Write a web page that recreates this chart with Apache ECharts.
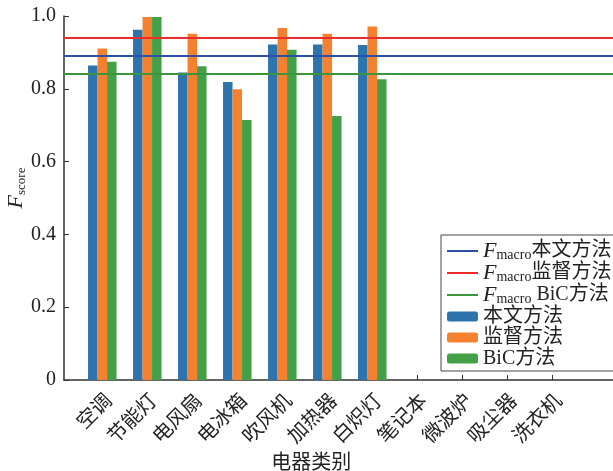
<!DOCTYPE html>
<html><head><meta charset="utf-8">
<script src="https://cdn.jsdelivr.net/npm/echarts@6/dist/echarts.min.js"></script>
<style>html,body{margin:0;padding:0;background:#fff}#c{width:613px;height:471px}</style>
</head><body><div id="c"></div>
<script>
const categories = ['空调','节能灯','电风扇','电冰箱','吹风机','加热器','白炽灯','笔记本','微波炉','吸尘器','洗衣机'];
const seriesNames = ['本文方法','监督方法','BiC方法'];
const oursValues = [0.864, 0.962, 0.845, 0.819, 0.922, 0.922, 0.920];
const supervisedValues = [0.911, 0.997, 0.951, 0.799, 0.967, 0.951, 0.971];
const bicValues = [0.874, 0.997, 0.862, 0.714, 0.907, 0.725, 0.826];
const macroNames = ['Fmacro本文方法','Fmacro监督方法','Fmacro BiC方法'];
const macroValues = [0.894, 0.935, 0.844];
const yTicks = [0, 0.2, 0.4, 0.6, 0.8, 1.0];

const FONT = '"Times New Roman","Liberation Serif","Noto Sans CJK SC",serif';
const barColors = ['#2c74ab','#f4812f','#43a047'];
const lineColors = ['#2d4fa6','#ee2b2b','#3c943c'];

const chart = echarts.init(document.getElementById('c'));
const series = [];
macroNames.forEach((n,i)=>{
  series.push({
    name:n, type:'line', xAxisIndex:0, yAxisIndex:0, data:[], symbol:'none',
    lineStyle:{color:lineColors[i], width:2}, itemStyle:{color:lineColors[i]},
    markLine:{silent:true, symbol:'none', label:{show:false},
      lineStyle:{color:lineColors[i], width:2, type:'solid'},
      data:[{yAxis:macroValues[i]}]}
  });
});
[oursValues, supervisedValues, bicValues].forEach((d,i)=>{
  series.push({name:seriesNames[i], type:'bar', xAxisIndex:1, yAxisIndex:1, data:d,
    barWidth:9.5, barGap:'0%', itemStyle:{color:barColors[i]}});
});

chart.setOption({
  animation:false,
  textStyle:{fontFamily:FONT},
  grid:[{left:64, right:0, top:16, bottom:91, outerBoundsMode:'none', containLabel:false},
        {left:79.8, width:495, top:16, bottom:91, outerBoundsMode:'none', containLabel:false}],
  xAxis:[
    {type:'value', gridIndex:0, min:0, max:1, axisLine:{show:true, lineStyle:{color:'#333', width:1.5}},
     axisTick:{show:false}, axisLabel:{show:false}, splitLine:{show:false}},
    {type:'category', gridIndex:1, data:categories, axisLine:{show:false},
     axisTick:{show:true, inside:true, alignWithLabel:true, length:5, lineStyle:{color:'#333'}},
     axisLabel:{rotate:45, fontSize:20, color:'#222', fontFamily:FONT, margin:11, interval:0, verticalAlign:'top'},
     name:'电器类别', nameLocation:'middle', nameGap:74, nameMoveOverlap:false,
     nameTextStyle:{fontSize:20, color:'#222', fontFamily:FONT, padding:[0,32,0,0]}}
  ],
  yAxis:[
    {type:'value', gridIndex:0, min:0, max:1, interval:0.2,
     axisLine:{show:true, lineStyle:{color:'#333', width:1.5}},
     axisTick:{show:true, inside:true, length:5, lineStyle:{color:'#333'}},
     axisLabel:{fontSize:20, color:'#222', fontFamily:FONT, margin:8,
       formatter:v=>v===0?'0':v.toFixed(1)},
     splitLine:{show:false},
     name:'{f|F}{s|score}', nameLocation:'middle', nameRotate:90, nameGap:36, nameMoveOverlap:false,
     nameTextStyle:{padding:[0,0,0,20], rich:{f:{fontSize:22, fontStyle:'italic', fontFamily:FONT, color:'#222'},
       s:{fontSize:13, fontFamily:FONT, color:'#222', padding:[10,0,0,0]}}}},
    {type:'value', gridIndex:1, min:0, max:1, show:false}
  ],
  legend:{
    orient:'vertical', left:441, top:235,
    data:[...macroNames.map(n=>({name:n, itemStyle:{opacity:0}})), ...seriesNames],
    itemWidth:31, itemHeight:10, itemGap:0,
    padding:[5,40,2,5],
    borderColor:'#444', borderWidth:1, backgroundColor:'#fff',
    textStyle:{fontSize:20, lineHeight:21, color:'#222', fontFamily:FONT,
      rich:{f:{fontSize:22, fontStyle:'italic', fontFamily:FONT, color:'#222', lineHeight:21},
        s:{fontSize:14, fontFamily:FONT, color:'#222', padding:[8,0,0,0], lineHeight:21},
        t:{fontSize:20, fontFamily:FONT, color:'#222', lineHeight:21}}},
    formatter:n=> n.startsWith('Fmacro') ? '{f|F}{s|macro}{t|'+n.slice(6)+'}' : n
  },
  series
});
</script></body></html>
